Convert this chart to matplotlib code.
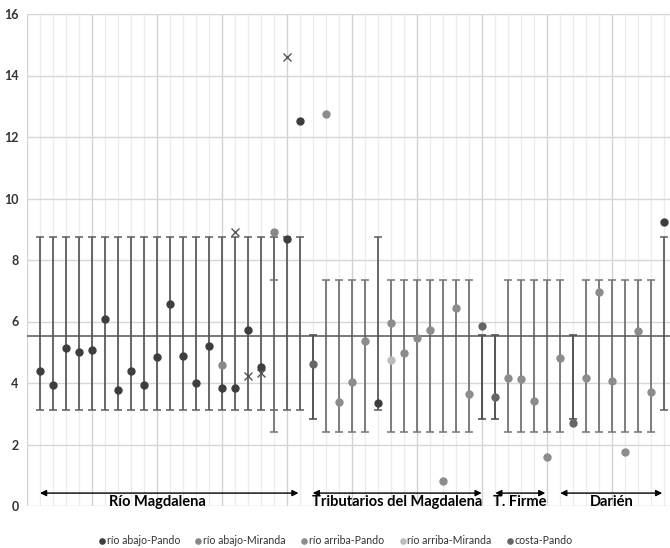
import matplotlib
matplotlib.use("Agg")
import matplotlib.pyplot as plt
from matplotlib.ticker import MultipleLocator

plt.rcParams['font.family'] = ['Lato', 'DejaVu Sans']

# error bar ranges, one per category 1..49
categories = list(range(1, 50))
bar_low = [3.13, 3.13, 3.13, 3.13, 3.13, 3.13, 3.13, 3.13, 3.13, 3.13,
           3.13, 3.13, 3.13, 3.13, 3.13, 3.13, 3.13, 3.13, 3.13, 3.13,
           3.13, 2.83, 2.40, 2.40, 2.40, 2.40, 3.13, 2.40, 2.40, 2.40,
           2.40, 2.40, 2.40, 2.40, 2.83, 2.83, 2.40, 2.40, 2.40, 2.40,
           2.40, 2.83, 2.40, 2.40, 2.40, 2.40, 2.40, 2.40, 3.13]
bar_high = [8.75, 8.75, 8.75, 8.75, 8.75, 8.75, 8.75, 8.75, 8.75, 8.75,
            8.75, 8.75, 8.75, 8.75, 8.75, 8.75, 8.75, 8.75, 8.75, 8.75,
            8.75, 5.57, 7.35, 7.35, 7.35, 7.35, 8.75, 7.35, 7.35, 7.35,
            7.35, 7.35, 7.35, 7.35, 5.57, 5.57, 7.35, 7.35, 7.35, 7.35,
            7.35, 5.57, 7.35, 7.35, 7.35, 7.35, 7.35, 7.35, 8.75]
# second bar drawn on top of category 19
extra_bar_x = [19]
extra_bar_low = [2.40]
extra_bar_high = [7.35]

mean_value = 5.52

abajo_pando_x = [1, 2, 3, 4, 5, 6, 7, 8, 9, 10, 11, 12, 13, 14, 15, 16, 17, 18, 20, 21, 27, 49]
abajo_pando_y = [4.39, 3.92, 5.13, 5.00, 5.07, 6.09, 3.78, 4.39, 3.95, 4.83, 6.56, 4.88, 4.01,
                 5.19, 3.85, 3.85, 5.71, 4.51, 8.68, 12.53, 3.35, 9.24]
abajo_miranda_x = [15, 19]
abajo_miranda_y = [4.60, 8.90]
arriba_pando_x = [23, 24, 25, 26, 28, 29, 30, 31, 32, 33, 34, 37, 38, 39, 40, 41, 43, 44, 45, 46, 47, 48]
arriba_pando_y = [12.76, 3.37, 4.03, 5.36, 5.96, 4.97, 5.46, 5.73, 0.81, 6.43, 3.64, 4.17, 4.12,
                  3.40, 1.58, 4.82, 4.17, 6.95, 4.05, 1.77, 5.70, 3.70]
arriba_miranda_x = [28]
arriba_miranda_y = [4.75]
costa_pando_x = [22, 35, 36, 42]
costa_pando_y = [4.61, 5.84, 3.53, 2.71]
cross_x = [16, 17, 18, 20]
cross_y = [8.92, 4.23, 4.31, 14.59]

group_names = ['Río Magdalena', 'Tributarios del Magdalena', 'T. Firme', 'Darién']
group_start = [1.0, 22.0, 36.05, 41.05]
group_end = [20.9, 35.0, 39.9, 48.9]
group_label_x = [10.0, 28.5, 37.9, 45.0]

bar_colors = {8.75: '#5c5c5c', 7.35: '#747474', 5.57: '#474747'}

fig = plt.figure(figsize=(6.7, 5.48), dpi=100)
ax = fig.add_axes([27 / 670, 42 / 548, 1 - 27 / 670, 492 / 548])

ax.set_xlim(0, 49.5)
ax.set_ylim(0, 16)
ax.yaxis.set_major_locator(MultipleLocator(2))
ax.xaxis.set_major_locator(MultipleLocator(5))
ax.xaxis.set_minor_locator(MultipleLocator(1))
ax.grid(which='minor', axis='x', color='#ececec', lw=0.9)
ax.grid(which='major', axis='x', color='#d2d2d2', lw=1.0)
ax.grid(which='major', axis='y', color='#d6d6d6', lw=1.0)
ax.set_axisbelow(True)
for s in ax.spines.values():
    s.set_visible(False)
ax.tick_params(axis='both', which='both', length=0)
ax.tick_params(axis='y', labelsize=9, labelcolor='#333333', pad=6)
ax.set_xticklabels([])
for lab in ax.get_yticklabels():
    lab.set_fontweight('bold')

# error bars
for x, lo, hi in zip(categories, bar_low, bar_high):
    mid = (lo + hi) / 2
    ax.errorbar(x, mid, yerr=[[mid - lo], [hi - mid]], fmt='none',
                ecolor=bar_colors[hi], elinewidth=1.3, capsize=3, capthick=1.1, zorder=2)
for x, lo, hi in zip(extra_bar_x, extra_bar_low, extra_bar_high):
    mid = (lo + hi) / 2
    ax.errorbar(x, mid, yerr=[[mid - lo], [hi - mid]], fmt='none',
                ecolor=bar_colors[hi], elinewidth=1.3, capsize=3, capthick=1.1, zorder=2)

ax.axhline(mean_value, color='#555555', lw=1.1, zorder=3)

ms = 5.0
ax.plot(abajo_pando_x, abajo_pando_y, 'o', color='#3e3e3e', ms=ms, label='río abajo-Pando', zorder=4)
ax.plot(abajo_miranda_x, abajo_miranda_y, 'o', color='#888888', ms=ms, label='río abajo-Miranda', zorder=4)
ax.plot(arriba_pando_x, arriba_pando_y, 'o', color='#8c8c8c', ms=ms, label='río arriba-Pando', zorder=4)
ax.plot(arriba_miranda_x, arriba_miranda_y, 'o', color='#bcbcbc', ms=ms, label='río arriba-Miranda', zorder=4)
ax.plot(costa_pando_x, costa_pando_y, 'o', color='#666666', ms=ms, label='costa-Pando', zorder=4)
ax.plot(cross_x, cross_y, 'x', color='#555555', ms=5.5, mew=1.0, zorder=4)

# group arrows and labels
for name, x0, x1, xl in zip(group_names, group_start, group_end, group_label_x):
    ax.annotate('', xy=(x1, 0.42), xytext=(x0, 0.42),
                arrowprops=dict(arrowstyle='<|-|>', color='black', lw=1.0,
                                mutation_scale=9, shrinkA=0, shrinkB=0), zorder=5)
    ax.text(xl, 0.14, name, ha='center', va='center', fontsize=10.5,
            fontweight='bold', color='black', zorder=5)

fig.legend(loc='center', bbox_to_anchor=(0.5, 7 / 548), ncol=5, frameon=False,
           fontsize=7.6, handletextpad=0.0, columnspacing=1.3, handlelength=0.9,
           markerscale=0.75, labelcolor='#333333')

fig.savefig('out.png', dpi=100)
